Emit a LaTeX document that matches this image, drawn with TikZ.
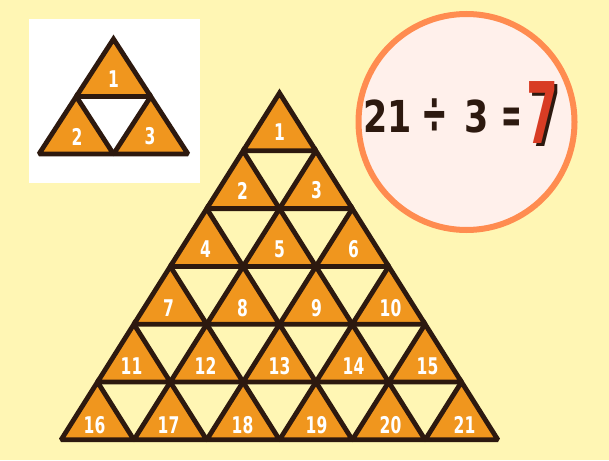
\documentclass[tikz,border=0pt]{standalone}
\usepackage{fontspec}
\newfontfamily\numfont{DejaVu Sans Condensed}
\definecolor{bg}{HTML}{FFF6B4}
\definecolor{tfill}{HTML}{F0961E}
\definecolor{tline}{HTML}{2D190F}
\definecolor{circline}{HTML}{FF8C50}
\definecolor{circfill}{HTML}{FFF0EB}
\definecolor{seven}{HTML}{D83C24}
\tikzset{
  trifill/.style={fill=tfill},
  triline/.style={draw=tline,line width=4.8pt,line join=miter,miter limit=1.9},
  num/.style={text=white,inner sep=0pt,font=\numfont\bfseries\fontsize{23}{23}\selectfont},
  eq/.style={text=tline,inner sep=0pt,anchor=base,font=\numfont\bfseries\fontsize{44}{44}\selectfont},
  sevenstyle/.style={inner sep=0pt,anchor=base,font=\numfont\bfseries\fontsize{85}{85}\selectfont},
}
\begin{document}
\begin{tikzpicture}[x=1pt,y=-1pt]
\useasboundingbox (0,0) rectangle (609,460);
\fill[bg] (0,0) rectangle (609,460);
% small example
\fill[white] (29,19) rectangle (200,183);
\foreach \r in {0,1}{\foreach \c in {0,...,\r}{
  \pgfmathsetmacro\xa{113.5+(2*\c-\r)*37.25}
  \pgfmathsetmacro\ya{39+\r*57.5}
  \fill[trifill] (\xa,\ya) -- ++(-37.25,57.5) -- ++(74.5,0) -- cycle;
}}
\foreach \r in {0,1}{\foreach \c in {0,...,\r}{
  \pgfmathsetmacro\xa{113.5+(2*\c-\r)*37.25}
  \pgfmathsetmacro\ya{39+\r*57.5}
  \pgfmathsetmacro\xn{113.5+(2*\c-\r)*36.5}
  \pgfmathtruncatemacro\n{\r*(\r+1)/2+\c+1}
  \draw[triline] (\xa,\ya) -- ++(-37.25,57.5) -- ++(74.5,0) -- cycle;
  \node[num] (s\n) at (\xn,\ya+40) {\scalebox{0.75}[1]{\n}};
}}
% big pyramid
\foreach \r in {0,...,5}{\foreach \c in {0,...,\r}{
  \pgfmathsetmacro\xa{279.5+(2*\c-\r)*36.4}
  \pgfmathsetmacro\ya{93+\r*57.8}
  \fill[trifill] (\xa,\ya) -- ++(-36.4,57.8) -- ++(72.8,0) -- cycle;
}}
\foreach \r in {0,...,5}{\foreach \c in {0,...,\r}{
  \pgfmathsetmacro\xa{279.5+(2*\c-\r)*36.4}
  \pgfmathsetmacro\ya{93+\r*57.8}
  \pgfmathsetmacro\xn{279.5+(2*\c-\r)*37}
  \pgfmathsetmacro\yn{132+\r*58.6}
  \pgfmathtruncatemacro\n{\r*(\r+1)/2+\c+1}
  \draw[triline] (\xa,\ya) -- ++(-36.4,57.8) -- ++(72.8,0) -- cycle;
  \node[num] (t\n) at (\xn,\yn) {\scalebox{0.75}[1]{\n}};
}}
% circle with equation
\draw[line width=6pt,draw=circline,fill=circfill] (466.5,122) circle[radius=108];
\node[eq] (e21) at (387.5,132) {\scalebox{0.88}[1]{21}};
\node[eq,anchor=center] (ediv) at (435,116) {\scalebox{0.8}[1.35]{÷}};
\node[eq] (e3) at (476.5,132) {\scalebox{0.88}[1]{3}};
\node[eq] (eeq) at (512,133) {\scalebox{0.62}[1.2]{=}};
\node[sevenstyle,text=tline] (e7s) at (545.5,146) {\scalebox{0.6}[1]{7}};
\node[sevenstyle,text=seven] (e7) at (542.5,143) {\scalebox{0.6}[1]{7}};
\end{tikzpicture}
\end{document}
